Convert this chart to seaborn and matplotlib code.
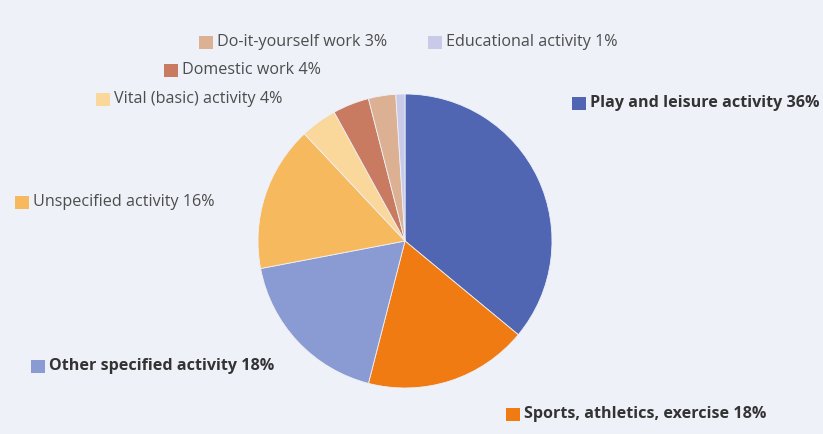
import matplotlib
matplotlib.use("Agg")
import matplotlib.pyplot as plt
from matplotlib.patches import Rectangle
import seaborn as sns

categories = ["Play and leisure activity", "Sports, athletics, exercise",
              "Other specified activity", "Unspecified activity",
              "Vital (basic) activity", "Domestic work",
              "Do-it-yourself work", "Educational activity"]
values = [36, 18, 18, 16, 4, 4, 3, 1]
hex_colors = ["#5066b2", "#ef7b12", "#8a9ad2", "#f7b95e",
              "#fad79a", "#c97b62", "#dcb093", "#c9c9e8"]
bold = [True, True, True, False, False, False, False, False]

sns.set_theme(style="white")
plt.rcParams['font.family'] = ['Open Sans', 'DejaVu Sans']
palette = sns.color_palette(hex_colors)
bg = "#eef1f8"

W, H = 823, 434
fig = plt.figure(figsize=(W / 100, H / 100), dpi=100)
fig.patch.set_facecolor(bg)

cx, cy, r = 405, 241, 147
ax = fig.add_axes([(cx - r) / W, (H - cy - r) / H, 2 * r / W, 2 * r / H])
ax.pie(values, colors=palette, startangle=90, counterclock=False,
       wedgeprops=dict(edgecolor=bg, linewidth=0.6))
ax.set_xlim(-1, 1)
ax.set_ylim(-1, 1)
ax.set_aspect("equal")
ax.axis("off")

ov = fig.add_axes([0, 0, 1, 1])
ov.set_xlim(0, W)
ov.set_ylim(H, 0)
ov.axis("off")
ov.patch.set_alpha(0)

# (square left x, y center) per label
label_pos = [(572, 103), (506, 414), (31, 366), (15, 202),
             (96, 99), (164, 70), (199, 42), (428, 42)]
sqw, sqh = 14, 13
for cat, v, col, b, (x, y) in zip(categories, values, palette, bold, label_pos):
    ov.add_patch(Rectangle((x, y - sqh / 2), sqw, sqh, facecolor=col, edgecolor="none"))
    ov.text(x + sqw + 4, y, f"{cat} {v}%", va="center", ha="left",
            fontsize=11.6, fontweight="bold" if b else "normal",
            color="#333333" if b else "#4d4d4d")

fig.savefig("out.png", dpi=100, facecolor=bg)
